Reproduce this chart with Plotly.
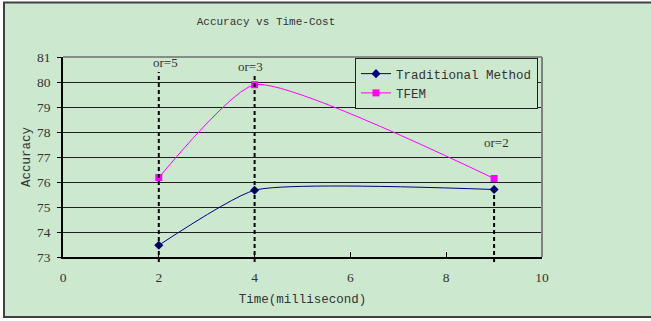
import plotly.graph_objects as go

# ---- data ----
time_ms = [2, 4, 9]
traditional = [73.47, 75.67, 75.70]
tfem = [76.18, 79.89, 76.14]
order_labels = ["or=5", "or=3", "or=2"]
guide_top = [80.4, 80.25, 75.70]
guide_bottom = 72.8

x_ticks = [0, 2, 4, 6, 8, 10]
y_ticks = [73, 74, 75, 76, 77, 78, 79, 80, 81]

W, H = 651, 321
ML, MR, MT, MB = 63, 109, 57, 64
PW, PH = W - ML - MR, H - MT - MB
XR = (0, 10)
YR = (73, 81)

def px_x(v):
    return (v - XR[0]) / (XR[1] - XR[0])

def py_y(v):
    return (v - YR[0]) / (YR[1] - YR[0])

def paper_from_px(px, py):
    return (px - ML) / PW, (H - MB - py) / PH

GREEN = "#CCE8CF"
MONO = "Liberation Mono, Courier New, monospace"
SERIF = "Liberation Serif, Times New Roman, serif"

fig = go.Figure()
fig.add_trace(go.Scatter(
    x=time_ms, y=traditional, name="Traditional Method",
    mode="lines+markers", line=dict(color="#000080", width=1, shape="spline", smoothing=0.5),
    marker=dict(symbol="diamond", size=7, color="#000080"), cliponaxis=False))
fig.add_trace(go.Scatter(
    x=time_ms, y=tfem, name="TFEM",
    mode="lines+markers", line=dict(color="#FF00FF", width=1, shape="spline", smoothing=0.5),
    marker=dict(symbol="square", size=7, color="#FF00FF"), cliponaxis=False))

shapes = []
# outer frame
x0, y0 = paper_from_px(4, 2.5)
x1, y1 = paper_from_px(700, 317)
shapes.append(dict(type="rect", xref="paper", yref="paper", x0=x0, y0=y1, x1=x1, y1=y0,
                   fillcolor=GREEN, line=dict(color="#404040", width=2), layer="below"))
# plot area top/right gray border
shapes.append(dict(type="line", xref="paper", yref="paper", x0=0, x1=1, y0=1, y1=1,
                   line=dict(color="#707070", width=1.5), layer="above"))
shapes.append(dict(type="line", xref="paper", yref="paper", x0=1, x1=1, y0=0, y1=1,
                   line=dict(color="#808080", width=2), layer="above"))
# dashed guides
for xv, top in zip(time_ms, guide_top):
    shapes.append(dict(type="line", xref="paper", yref="paper",
                       x0=px_x(xv), x1=px_x(xv), y0=py_y(guide_bottom), y1=py_y(top),
                       line=dict(color="black", width=2, dash="4px,3px"), layer="above"))

annotations = []
label_pos = [(2.13, 80.8), (3.91, 80.64), (9.06, 77.57)]
for lab, (ax_, ay_) in zip(order_labels, label_pos):
    annotations.append(dict(x=ax_, y=ay_, xref="x", yref="y", text=lab, showarrow=False,
                            font=dict(family=SERIF, size=13, color="#333333")))

lx, ly = paper_from_px(355, 58)
fig.update_layout(
    width=W, height=H,
    margin=dict(l=ML, r=MR, t=MT, b=MB, pad=0, autoexpand=False),
    paper_bgcolor="white", plot_bgcolor="#C0C0C0",
    title=dict(text="Accuracy vs Time-Cost", x=266 / W, xanchor="center",
               y=1 - 21 / H, yanchor="middle", yref="container",
               font=dict(family=MONO, size=11, color="#333333")),
    showlegend=True,
    legend=dict(x=lx, y=ly, xanchor="left", yanchor="top", bgcolor=GREEN,
                bordercolor="#202020", borderwidth=1,
                font=dict(family=MONO, size=12.5, color="#333333"),
                tracegroupgap=0, itemwidth=30),
    xaxis=dict(range=list(XR), tickvals=x_ticks, ticktext=[str(v) for v in x_ticks],
               automargin=False,
               showgrid=False, zeroline=False, showline=True, linecolor="black", linewidth=1.5,
               ticks="inside", ticklen=5, tickcolor="black",
               ticklabelstandoff=7,
               tickfont=dict(family=SERIF, size=13.5, color="#333333"),
               title=dict(text="Time(millisecond)", standoff=10,
                          font=dict(family=MONO, size=12.5, color="#333333"))),
    yaxis=dict(range=list(YR), tickvals=y_ticks, automargin=False,
               showgrid=True, gridcolor="#202020", gridwidth=1,
               zeroline=False, showline=True, linecolor="black", linewidth=1.5,
               ticks="outside", ticklen=4, tickcolor="black",
               ticklabelstandoff=4,
               tickfont=dict(family=SERIF, size=13.5, color="#333333"),
               title=dict(text="Accuracy", standoff=4,
                          font=dict(family=MONO, size=12.5, color="#333333"))),
    shapes=shapes, annotations=annotations,
)

fig.write_html("out.html", config={"displayModeBar": False},
               post_script="document.body.style.margin='0';")
